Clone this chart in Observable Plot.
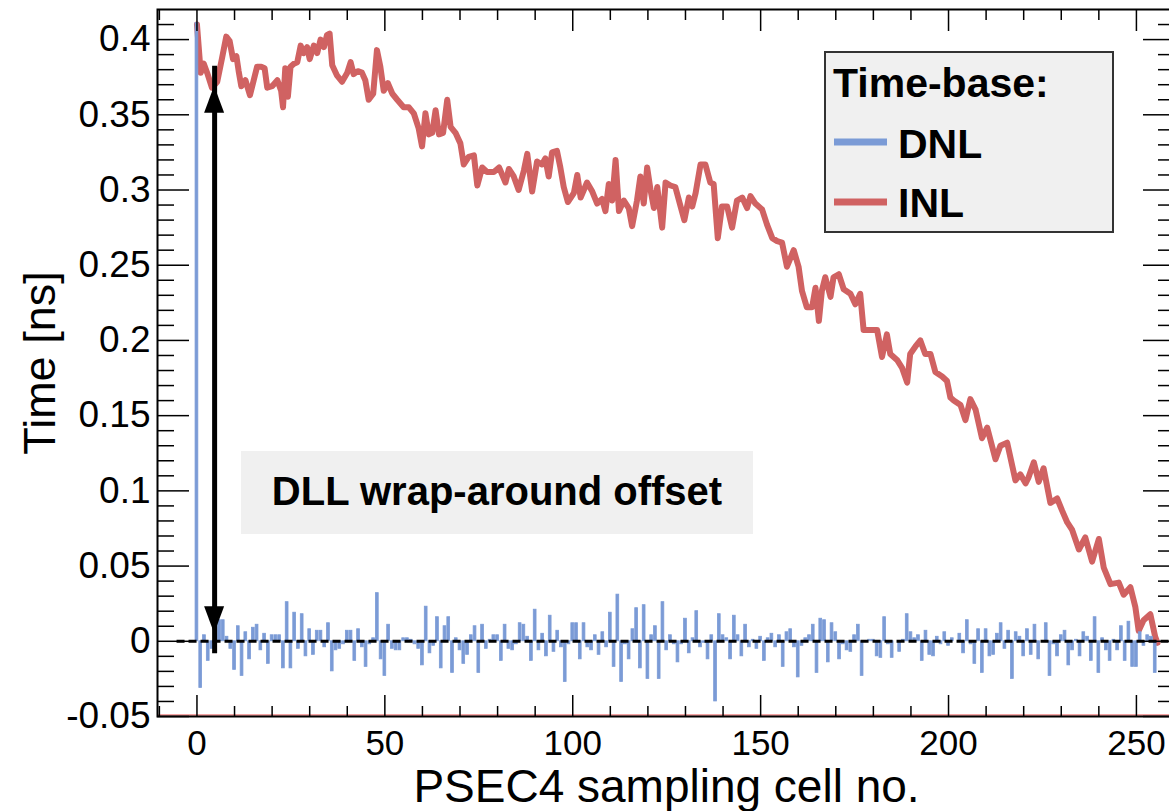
<!DOCTYPE html>
<html><head><meta charset="utf-8">
<script src="https://cdn.jsdelivr.net/npm/d3@7"></script>
<script src="https://cdn.jsdelivr.net/npm/@observablehq/plot@0.6"></script>
<style>
html,body{margin:0;padding:0;background:#fff;overflow:hidden;}
#wrap{position:relative;width:1169px;height:811px;overflow:hidden;}
</style></head><body><div id="wrap"></div>
<script>
// ---------- data ----------
const dnlValues = [
 0.411,-0.031,0.004,-0.013,-0.005,0.003,0.014,0.014,0.003,-0.005,
 -0.019,0.010,-0.023,0.006,-0.012,0.009,0.011,-0.006,0.005,-0.015,
 0.004,0.004,0.004,-0.018,0.026,-0.018,0.019,-0.005,0.018,-0.010,
 0.008,-0.009,0.007,0.007,-0.004,0.012,-0.020,-0.006,-0.005,-0.002,
 0.007,0.007,-0.013,0.008,-0.004,-0.017,-0.002,0.002,0.032,-0.012,
 -0.023,0.011,-0.005,-0.006,-0.006,0.002,0.002,0.001,-0.002,-0.005,
 -0.016,0.023,-0.008,-0.003,0.016,-0.018,0.010,0.016,-0.021,0.002,
 -0.006,-0.015,-0.009,0.004,0.010,-0.021,0.011,-0.005,0.001,0.004,
 0.004,-0.013,0.011,-0.005,-0.006,-0.002,0.012,0.011,0.003,-0.013,
 0.021,-0.006,0.005,-0.010,0.017,-0.007,0.007,-0.004,-0.027,-0.002,
 0.012,0.012,-0.012,0.012,-0.004,-0.006,0.004,-0.009,0.006,-0.004,
 0.019,-0.017,0.031,-0.027,-0.002,-0.012,0.008,0.022,-0.018,0.024,
 -0.025,0.004,0.010,-0.025,0.026,-0.006,0.004,-0.002,-0.014,-0.002,
 0.015,-0.008,0.002,0.020,-0.004,-0.001,-0.012,0.004,-0.040,0.018,
 0.004,0.002,-0.012,0.017,0.004,-0.010,0.011,-0.004,0.001,-0.005,
 0.003,-0.013,0.002,0.005,-0.004,0.004,-0.017,0.006,0.008,-0.004,
 -0.024,-0.003,0.002,0.004,0.011,-0.021,0.015,0.014,-0.014,0.012,
 0.006,-0.012,-0.002,-0.006,-0.007,0.004,0.011,-0.023,0.000,0.001,
 0.001,-0.010,-0.011,0.016,-0.002,-0.011,0.000,-0.007,0.001,0.018,
 0.006,0.002,0.004,-0.013,0.007,-0.009,-0.010,0.003,-0.002,0.006,
 -0.003,0.002,0.000,0.005,-0.008,0.014,-0.002,-0.015,0.008,-0.021,
 0.008,-0.010,-0.009,0.005,0.012,-0.005,0.007,-0.025,0.006,0.003,
 -0.010,0.008,-0.009,0.011,-0.012,0.000,0.012,-0.023,-0.002,-0.010,
 0.004,0.007,-0.016,-0.006,0.001,-0.010,0.006,0.003,-0.013,0.016,
 -0.021,0.002,-0.006,-0.013,0.001,-0.006,0.010,-0.013,0.013,-0.017,
 -0.017,0.006,-0.003,0.004,0.003,-0.021
];
const inlCells = [
 0,1,1.8,2.7,4.0,5.4,6.7,7.8,8.7,9.6,10.5,11.1,11.8,12.9,14.1,15.1,16.0,17.1,18.0,18.7,
 20.0,21.4,22.4,22.9,23.5,24.2,24.9,25.8,26.7,27.6,28.4,29.3,30.0,31.1,32.0,32.9,33.8,34.6,35.3,36.0,
 37.3,38.6,40.0,40.9,41.7,42.8,43.9,44.8,45.7,46.9,47.9,48.8,49.7,50.8,52.0,53.3,55.0,56.4,57.7,59.0,
 59.9,60.8,61.7,62.6,63.5,64.4,65.5,66.6,67.5,68.8,70.1,71.0,72.3,73.7,74.6,75.9,77.2,79.0,80.4,
 82.1,83.0,84.3,85.6,87.0,87.9,89.2,90.5,91.8,92.7,93.6,94.5,95.8,96.7,97.6,98.7,100.3,101.2,102.1,103.8,
 105.2,106.5,107.8,108.7,109.6,110.5,111.4,112.3,113.6,114.9,115.8,117.1,118.0,118.9,119.8,120.7,121.6,122.5,123.8,124.7,
 126.0,127.3,128.7,129.7,130.9,131.8,132.7,134.0,135.3,136.6,137.5,138.6,139.7,141.1,142.4,143.7,145.1,146.4,147.3,148.6,
 150.4,151.7,153.1,154.4,155.7,157.0,158.8,160.1,161.0,162.3,163.7,164.6,165.5,166.3,167.2,168.6,169.4,170.8,172.1,173.9,
 175.2,176.5,177.4,179.2,181.0,182.3,183.6,184.5,186.3,187.6,189.0,189.8,191.2,192.5,193.8,195.2,196.5,198.3,199.6,200.5,
 201.4,203.2,204.5,205.8,207.2,208.9,210.3,212.5,213.8,215.6,217.8,219.1,220.5,221.3,222.7,224.0,225.3,227.1,228.9,230.2,
 231.6,232.9,234.7,236.4,238.2,240.0,241.3,243.1,245.3,246.6,248.4,249.7,250.6,251.9,253.7,255.0,255.6
];
const inlTimes = [
 0.410,0.378,0.384,0.378,0.368,0.372,0.388,0.402,0.399,0.387,0.389,0.379,0.369,0.373,0.363,0.373,0.382,0.382,0.381,0.368,
 0.369,0.373,0.366,0.355,0.381,0.362,0.382,0.384,0.385,0.396,0.391,0.395,0.387,0.396,0.391,0.400,0.395,0.403,0.404,0.383,
 0.376,0.372,0.378,0.385,0.377,0.379,0.378,0.373,0.360,0.364,0.393,0.382,0.366,0.371,0.364,0.360,0.355,0.355,0.351,0.341,
 0.329,0.351,0.337,0.338,0.353,0.337,0.338,0.360,0.342,0.338,0.331,0.317,0.322,0.323,0.303,0.315,0.312,0.312,0.315,
 0.305,0.314,0.309,0.300,0.313,0.324,0.299,0.319,0.317,0.321,0.309,0.325,0.326,0.315,0.302,0.292,0.298,0.310,0.295,0.305,
 0.299,0.291,0.294,0.286,0.304,0.293,0.320,0.286,0.293,0.288,0.276,0.293,0.309,0.291,0.315,0.300,0.288,0.302,0.275,0.305,
 0.303,0.302,0.289,0.280,0.295,0.289,0.298,0.317,0.317,0.305,0.304,0.268,0.289,0.289,0.275,0.293,0.295,0.288,0.296,0.291,
 0.287,0.277,0.268,0.266,0.265,0.249,0.260,0.249,0.233,0.222,0.222,0.235,0.213,0.233,0.242,0.229,0.242,0.244,0.234,0.231,
 0.224,0.231,0.207,0.207,0.207,0.189,0.204,0.191,0.187,0.182,0.172,0.191,0.196,0.200,0.191,0.191,0.179,0.176,0.173,0.162,
 0.160,0.157,0.147,0.161,0.154,0.135,0.142,0.121,0.130,0.132,0.107,0.111,0.105,0.109,0.119,0.106,0.115,0.092,0.095,0.087,
 0.079,0.074,0.061,0.069,0.053,0.068,0.049,0.038,0.039,0.031,0.036,0.023,0.007,0.014,0.018,0.003,-0.001
];
const xMajorTicks = [0, 50, 100, 150, 200, 250];
const xTickLabels = ["0", "50", "100", "150", "200", "250"];
const xMinorTicks = [-10,10,20,30,40,60,70,80,90,110,120,130,140,160,170,180,190,210,220,230,240,260];
const yMajorTicks = [-0.05, 0, 0.05, 0.1, 0.15, 0.2, 0.25, 0.3, 0.35, 0.4];
const yTickLabels = ["-0.05", "0", "0.05", "0.1", "0.15", "0.2", "0.25", "0.3", "0.35", "0.4"];
const yMinorTicks = [-0.04,-0.03,-0.02,-0.01,0.01,0.02,0.03,0.04,0.06,0.07,0.08,0.09,0.11,0.12,0.13,0.14,
  0.16,0.17,0.18,0.19,0.21,0.22,0.23,0.24,0.26,0.27,0.28,0.29,0.31,0.32,0.33,0.34,0.36,0.37,0.38,0.39,0.41];
const seriesNames = ["DNL", "INL"];
const legendTitle = "Time-base:";
const xTitle = "PSEC4 sampling cell no.";
const yTitle = "Time [ns]";
const annotationText = "DLL wrap-around offset";
const arrowCell = [4.7];
const arrowTop = [0.369];
const arrowBottom = [0.005];
const zeroLineStart = [-5.3];

// ---------- build ----------
const dnl = dnlValues.map((v, i) => ({cell: i, value: v}));
const inl = inlCells.map((c, i) => ({cell: c, time: inlTimes[i]}));
const arrows = arrowCell.map((c, i) => ({cell: c, top: arrowTop[i], bottom: arrowBottom[i]}));

const BLUE = "#7b9bd6", RED = "#d06262";
const W = 1169, H = 811;
const mL = 157, mR = -6, mT = 9, mB = 95;
const FW = W - mL - mR, FH = H - mT - mB;
const FONT = "'Liberation Sans', Arial, Helvetica, sans-serif";

const plot = Plot.plot({
  width: W, height: H,
  marginLeft: mL, marginRight: mR, marginTop: mT, marginBottom: mB,
  x: {domain: [-10.5, 260.4], axis: null},
  y: {domain: [-0.05, 0.42], axis: null},
  style: {fontFamily: FONT, background: "white", color: "black"},
  marks: [
    Plot.ruleY([-0.05], {stroke: "#f4a4a4", strokeWidth: 2, dy: -1.5}),
    Plot.line(inl, {x: "cell", y: "time", stroke: RED, strokeWidth: 6, strokeLinejoin: "round"}),
    Plot.rect(dnl, {x1: d => d.cell - 0.5, x2: d => d.cell + 0.5, y1: 0, y2: "value", fill: BLUE, stroke: BLUE, strokeWidth: 0.8, insetLeft: 0.5, insetRight: 0.5}),
    Plot.ruleY([0], {x1: zeroLineStart[0], x2: 260.4, stroke: "black", strokeWidth: 3, strokeDasharray: "8,4"}),
    Plot.ruleX(arrows, {x: "cell", y1: "bottom", y2: "top", stroke: "black", strokeWidth: 5, insetTop: 20, insetBottom: 20}),
    // ticks (inside, all four sides)
    Plot.tickX(xMajorTicks, {x: d => d, insetTop: FH - 21, stroke: "black", strokeWidth: 1.5}),
    Plot.tickX(xMajorTicks, {x: d => d, insetBottom: FH - 22, stroke: "black", strokeWidth: 1.5}),
    Plot.tickX(xMinorTicks, {x: d => d, insetTop: FH - 10, stroke: "black", strokeWidth: 1.5}),
    Plot.tickX(xMinorTicks, {x: d => d, insetBottom: FH - 11, stroke: "black", strokeWidth: 1.5}),
    Plot.tickY(yMajorTicks, {y: d => d, insetRight: FW - 32, stroke: "black", strokeWidth: 1.5}),
    Plot.tickY(yMajorTicks, {y: d => d, insetLeft: FW - 32, stroke: "black", strokeWidth: 1.5}),
    Plot.tickY(yMinorTicks, {y: d => d, insetRight: FW - 17, stroke: "black", strokeWidth: 1.5}),
    Plot.tickY(yMinorTicks, {y: d => d, insetLeft: FW - 17, stroke: "black", strokeWidth: 1.5}),
    Plot.frame({stroke: "black", strokeWidth: 2}),
    // tick labels
    Plot.text(xMajorTicks, {x: d => d, text: (d, i) => xTickLabels[i], frameAnchor: "bottom", dy: 27, textAnchor: "middle", lineAnchor: "middle", fontSize: 35, fill: "black"}),
    Plot.text(yMajorTicks, {y: d => d, text: (d, i) => yTickLabels[i], frameAnchor: "left", dx: -7, textAnchor: "end", lineAnchor: "middle", fontSize: 37, fill: "black"}),
    // axis titles
    Plot.text([xTitle], {text: d => d, frameAnchor: "bottom", dy: 71, textAnchor: "middle", lineAnchor: "middle", fontSize: 46, fill: "black"}),
    Plot.text([yTitle], {text: d => d, frameAnchor: "left", dx: -117, rotate: -90, textAnchor: "middle", lineAnchor: "middle", fontSize: 45, fill: "black"})
  ]
});
document.getElementById("wrap").appendChild(plot);

// arrowheads of the double arrow, positioned with the plot's scales
const sx = plot.scale("x"), sy = plot.scale("y");
const svg = d3.select(plot);
arrows.forEach(a => {
  const ax = sx.apply(a.cell), yt = sy.apply(a.top), yb = sy.apply(a.bottom);
  svg.append("path").attr("d", `M${ax},${yt}L${ax - 10},${yt + 27}L${ax + 10},${yt + 27}Z`).attr("fill", "black");
  svg.append("path").attr("d", `M${ax},${yb}L${ax - 10},${yb - 27}L${ax + 10},${yb - 27}Z`).attr("fill", "black");
});

// annotation box
const ann = svg.append("g");
ann.append("rect").attr("x", 241).attr("y", 451).attr("width", 512).attr("height", 83).attr("fill", "#f0f0f0");
ann.append("text").attr("x", 497).attr("y", 505).attr("text-anchor", "middle")
  .attr("font-family", FONT).attr("font-weight", "bold").attr("font-size", 40).attr("fill", "black").text(annotationText);

// legend
const lg = svg.append("g").attr("text-anchor", "start");
lg.append("rect").attr("x", 825).attr("y", 52).attr("width", 288).attr("height", 180)
  .attr("fill", "#f0f0f0").attr("stroke", "#333").attr("stroke-width", 2);
lg.append("text").attr("x", 833).attr("y", 97).attr("text-anchor", "start").attr("font-family", FONT).attr("font-weight", "bold")
  .attr("font-size", 41).attr("fill", "black").text(legendTitle);
[[BLUE, 142, 158], [RED, 202, 217]].forEach(([c, ly, ty], i) => {
  lg.append("line").attr("x1", 834).attr("x2", 887).attr("y1", ly).attr("y2", ly).attr("stroke", c).attr("stroke-width", 7);
  lg.append("text").attr("x", 898).attr("y", ty).attr("text-anchor", "start").attr("font-family", FONT).attr("font-weight", "bold")
    .attr("font-size", 41).attr("fill", "black").text(seriesNames[i]);
});
</script></body></html>
